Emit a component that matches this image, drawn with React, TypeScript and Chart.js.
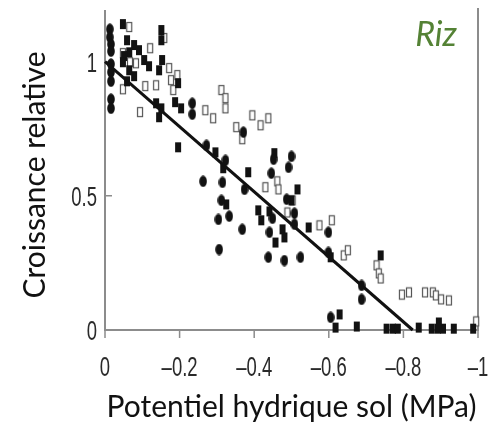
import React, { useEffect, useRef } from "react";
import { Chart, registerables } from "chart.js";

Chart.register(...registerables);

// Axis ticks
const xTicks = [0, -0.2, -0.4, -0.6, -0.8, -1];
const xTickLabels = ["0", "–0.2", "–0.4", "–0.6", "–0.8", "–1"];
const yTicks = [0, 0.5, 1];
const yTickLabels = ["0", "0.5", "1"];

// Titles
const xTitle = "Potentiel hydrique sol (MPa)";
const yTitle = "Croissance relative";
const cropLabel = "Riz";

// Filled ellipses
const ellipseX = [-0.013, -0.013, -0.016, -0.016, -0.016, -0.016, -0.016, -0.016, -0.016, -0.234, -0.234, -0.371, -0.272, -0.323, -0.263, -0.315, -0.312, -0.304, -0.333, -0.306, -0.452, -0.5, -0.492, -0.446, -0.374, -0.487, -0.508, -0.508, -0.449, -0.368, -0.441, -0.599, -0.438, -0.481, -0.524, -0.599, -0.605, -0.688, -0.688];
const ellipseY = [1.121, 1.091, 1.065, 1.039, 0.991, 0.961, 0.927, 0.86, 0.826, 0.845, 0.804, 0.737, 0.688, 0.632, 0.554, 0.55, 0.483, 0.412, 0.424, 0.3, 0.636, 0.647, 0.606, 0.584, 0.524, 0.487, 0.435, 0.394, 0.416, 0.375, 0.364, 0.364, 0.271, 0.259, 0.271, 0.289, 0.047, 0.166, 0.114];

// Filled squares
const filledX = [-0.048, -0.151, -0.151, -0.059, -0.078, -0.091, -0.065, -0.051, -0.105, -0.118, -0.048, -0.153, -0.145, -0.065, -0.078, -0.059, -0.196, -0.137, -0.151, -0.145, -0.188, -0.204, -0.196, -0.296, -0.317, -0.384, -0.454, -0.516, -0.5, -0.325, -0.411, -0.441, -0.419, -0.476, -0.481, -0.457, -0.546, -0.605, -0.739, -0.629, -0.618, -0.675, -0.755, -0.772, -0.785, -0.841, -0.876, -0.892, -0.906, -0.895, -0.935, -0.987];
const filledY = [1.14, 1.118, 1.08, 1.08, 1.062, 1.043, 1.035, 1.021, 1.006, 0.983, 0.998, 1.006, 0.968, 0.968, 0.946, 0.927, 0.92, 0.845, 0.826, 0.793, 0.849, 0.826, 0.681, 0.662, 0.603, 0.588, 0.659, 0.524, 0.483, 0.468, 0.446, 0.442, 0.409, 0.375, 0.345, 0.326, 0.382, 0.271, 0.278, 0.058, 0.009, 0.013, 0.005, 0.005, 0.005, 0.009, 0.005, 0.005, 0.005, 0.028, 0.005, 0.005];

// Open squares
const openX = [-0.065, -0.159, -0.121, -0.048, -0.067, -0.083, -0.172, -0.194, -0.177, -0.048, -0.108, -0.137, -0.183, -0.094, -0.269, -0.29, -0.312, -0.323, -0.323, -0.395, -0.438, -0.417, -0.352, -0.368, -0.462, -0.43, -0.465, -0.489, -0.503, -0.575, -0.608, -0.64, -0.651, -0.728, -0.734, -0.739, -0.796, -0.815, -0.858, -0.879, -0.887, -0.901, -0.922, -0.995];
const openY = [1.129, 1.088, 1.05, 1.032, 0.998, 0.994, 0.976, 0.95, 0.931, 0.897, 0.909, 0.912, 0.894, 0.812, 0.819, 0.789, 0.894, 0.864, 0.826, 0.8, 0.789, 0.763, 0.756, 0.711, 0.554, 0.532, 0.524, 0.438, 0.483, 0.39, 0.409, 0.278, 0.297, 0.241, 0.211, 0.192, 0.132, 0.14, 0.14, 0.14, 0.129, 0.114, 0.11, 0.032];

// Regression line
const fitX = [0, -0.825];
const fitY = [1.0, 0];

const toPoints = (xs: number[], ys: number[]) => xs.map((x, i) => ({ x, y: ys[i] }));

function makeMarker(kind: string): HTMLCanvasElement {
  const c = document.createElement("canvas");
  c.width = 8;
  c.height = 12;
  const g = c.getContext("2d")!;
  if (kind === "ellipse") {
    g.fillStyle = "#121212";
    g.beginPath();
    g.ellipse(4, 6, 3.8, 5.8, 0, 0, Math.PI * 2);
    g.fill();
  } else if (kind === "filled") {
    g.fillStyle = "#121212";
    g.fillRect(1, 1, 6, 10);
  } else {
    g.fillStyle = "#ffffff";
    g.fillRect(1, 1, 6, 10);
    g.strokeStyle = "#555555";
    g.lineWidth = 1.2;
    g.strokeRect(1.5, 1.5, 5, 9);
  }
  return c;
}

const titleFont = { family: "Lato, 'Open Sans', sans-serif", size: 30 };
const TICK_FONT = "28px 'Liberation Sans', Arial, sans-serif";
const TICK_SQUEEZE = 0.66;

const decor = {
  id: "decor",
  beforeDatasetsDraw(chart: any) {
    const { ctx, chartArea: a, scales } = chart;
    const x = scales.x;
    const y = scales.y;
    ctx.save();
    ctx.strokeStyle = "#8c8c8c";
    ctx.lineWidth = 2;
    ctx.beginPath();
    ctx.moveTo(a.left, a.top + 2);
    ctx.lineTo(a.left, a.bottom);
    ctx.lineTo(a.right, a.bottom);
    ctx.lineTo(a.right, a.top);
    ctx.stroke();
    ctx.lineWidth = 1.5;
    ctx.beginPath();
    xTicks.forEach((v) => {
      const px = x.getPixelForValue(v);
      ctx.moveTo(px, a.bottom);
      ctx.lineTo(px, a.bottom + 8);
    });
    yTicks.forEach((v) => {
      const py = y.getPixelForValue(v);
      ctx.moveTo(a.left, py);
      ctx.lineTo(a.left + 7, py);
    });
    ctx.stroke();
    ctx.restore();
  },
  afterDraw(chart: any) {
    const { ctx, chartArea: a, scales } = chart;
    const x = scales.x;
    const y = scales.y;
    ctx.save();
    ctx.font = TICK_FONT;
    ctx.fillStyle = "#2a2a2a";
    ctx.textBaseline = "alphabetic";
    xTicks.forEach((v, i) => {
      const px = x.getPixelForValue(v);
      ctx.save();
      ctx.translate(px, a.bottom + 46);
      ctx.scale(TICK_SQUEEZE, 1);
      ctx.textAlign = "center";
      ctx.fillText(xTickLabels[i], 0, 0);
      ctx.restore();
    });
    yTicks.forEach((v, i) => {
      const py = y.getPixelForValue(v);
      ctx.save();
      ctx.translate(a.left - 8, py + 10);
      ctx.scale(TICK_SQUEEZE, 1);
      ctx.textAlign = "right";
      ctx.fillText(yTickLabels[i], 0, 0);
      ctx.restore();
    });
    ctx.restore();

    // y-axis title
    ctx.save();
    ctx.font = "30px Lato, 'Open Sans', sans-serif";
    ctx.fillStyle = "#111111";
    ctx.translate(35, 175);
    ctx.rotate(-Math.PI / 2);
    ctx.textAlign = "center";
    ctx.textBaseline = "middle";
    ctx.fillText(yTitle, 0, 0);
    ctx.restore();

    ctx.save();
    ctx.font = "italic 34px Lato, 'Open Sans', sans-serif";
    ctx.fillStyle = "#548235";
    ctx.textAlign = "right";
    ctx.textBaseline = "alphabetic";
    ctx.fillText(cropLabel, 457, 46);
    ctx.restore();
  },
};

export default function App() {
  const ref = useRef<HTMLCanvasElement | null>(null);

  useEffect(() => {
    if (!ref.current) return;
    const chart = new Chart(ref.current, {
      type: "scatter",
      data: {
        datasets: [
          {
            type: "line",
            data: toPoints(fitX, fitY),
            borderColor: "#111111",
            borderWidth: 3,
            pointRadius: 0,
            fill: false,
            clip: false,
          } as any,
          {
            data: toPoints(ellipseX, ellipseY),
            pointStyle: makeMarker("ellipse"),
            pointRadius: 5,
            clip: false,
          } as any,
          {
            data: toPoints(filledX, filledY),
            pointStyle: makeMarker("filled"),
            pointRadius: 5,
            clip: false,
          } as any,
          {
            data: toPoints(openX, openY),
            pointStyle: makeMarker("open"),
            pointRadius: 5,
            clip: false,
          } as any,
        ],
      },
      options: {
        animation: false,
        responsive: false,
        maintainAspectRatio: false,
        layout: { padding: { top: 8, right: 19, left: 0, bottom: 0 } },
        plugins: { legend: { display: false }, tooltip: { enabled: false } },
        scales: {
          x: {
            type: "linear",
            reverse: true,
            min: -1,
            max: 0,
            grid: { display: false, drawTicks: false },
            border: { display: false },
            afterBuildTicks: (s: any) => {
              s.ticks = xTicks.map((v) => ({ value: v }));
            },
            afterFit: (s: any) => {
              s.height = 96;
            },
            ticks: { display: false },
            title: {
              display: true,
              text: xTitle,
              font: titleFont,
              color: "#111111",
              padding: { top: 0, bottom: 1 },
            },
          },
          y: {
            type: "linear",
            min: 0,
            max: 1.2,
            grid: { display: false, drawTicks: false },
            border: { display: false },
            afterBuildTicks: (s: any) => {
              s.ticks = yTicks.map((v) => ({ value: v }));
            },
            afterFit: (s: any) => {
              s.width = 105;
            },
            ticks: { display: false },
            title: { display: false },
          },
        },
      },
      plugins: [decor],
    });
    return () => chart.destroy();
  }, []);

  return (
    <div style={{ position: "fixed", left: 0, top: 0, width: 497, height: 426, background: "#fff" }}>
      <canvas ref={ref} width={497} height={426} style={{ width: 497, height: 426, display: "block" }} />
    </div>
  );
}
